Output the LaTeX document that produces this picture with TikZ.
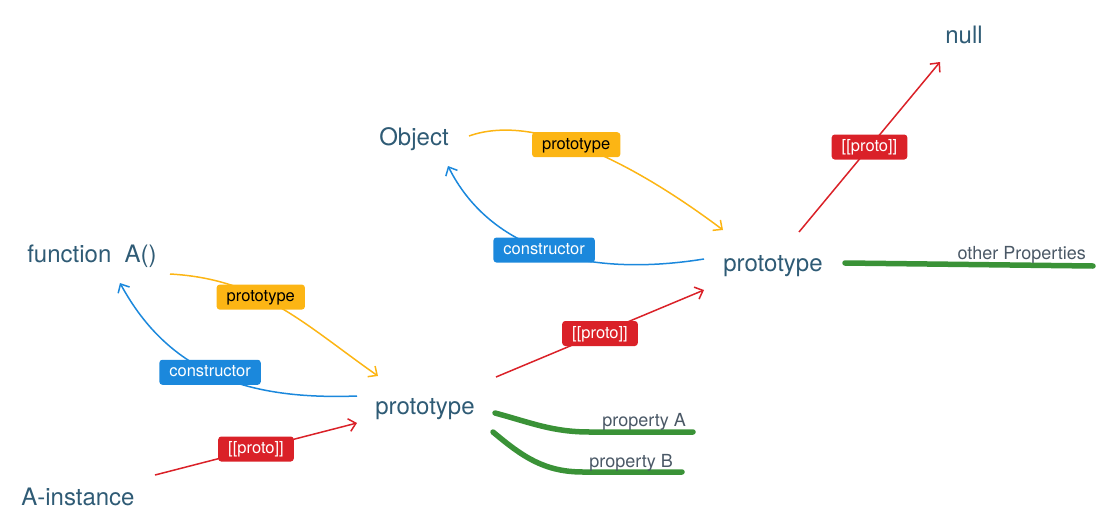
\documentclass[tikz,border=0pt]{standalone}
\usepackage{fontspec}
\setmainfont{TeX Gyre Heros}
\usetikzlibrary{arrows.meta}
\definecolor{namecol}{HTML}{2F5B75}
\definecolor{protoyel}{HTML}{FCB514}
\definecolor{ctorblue}{HTML}{1B88DC}
\definecolor{protored}{HTML}{DA2128}
\definecolor{propgreen}{HTML}{3A9237}
\definecolor{propgray}{HTML}{4A5866}
\begin{document}
\begin{tikzpicture}[x=1pt,y=1pt,
  >={Straight Barb[length=7pt,width=13pt]},
  obj/.style={text=namecol,font=\fontsize{24}{28}\selectfont,inner sep=0pt},
  tag/.style={rounded corners=3pt,font=\fontsize{16.5}{18}\selectfont,inner xsep=10pt,
    inner ysep=5pt,text height=12pt,text depth=3pt},
  yel/.style={->,protoyel,line width=1.5pt},
  blu/.style={->,ctorblue,line width=1.5pt},
  rd/.style={->,protored,line width=1.5pt},
  grn/.style={propgreen,line width=5.5pt,line cap=round},
  proptxt/.style={text=propgray,font=\fontsize{18}{20}\selectfont,inner sep=0pt,anchor=base east}]
\useasboundingbox (0,0) rectangle (1098,-528);

\node[obj] (fnA) at (92,-256) {function\ \ A()};
\node[obj] (objct) at (414,-139) {Object};
\node[obj] (nul) at (964,-35) {null};
\node[obj] (protoTop) at (773,-266) {prototype};
\node[obj] (protoA) at (425,-409) {prototype};
\node[obj] (inst) at (78,-497) {A-instance};

% function A() <-> its prototype
\draw[yel] ([shift={(78,-18)}]fnA.center) .. controls +(90,-5) and +(-74,52) .. ([shift={(-47,33)}]protoA.center)
  node[tag,fill=protoyel,text=black,pos=0.4] (tagA1) {prototype};
\draw[blu] ([shift={(-68,13)}]protoA.center) .. controls +(-107,-4) and +(50,-92) .. ([shift={(28,-27)}]fnA.center)
  node[tag,fill=ctorblue,text=white,pos=0.53] (tagA2) {constructor};
\draw[rd] ([shift={(77,22)}]inst.center) -- ([shift={(-68,-14)}]protoA.center)
  node[tag,fill=protored,text=white,midway] (tagA3) {[[proto]]};

% Object <-> its prototype
\draw[yel] ([shift={(55,3)}]objct.center) .. controls +(70,25) and +(-80,60) .. ([shift={(-50,36)}]protoTop.center)
  node[tag,fill=protoyel,text=black,pos=0.44] (tagO1) {prototype};
\draw[blu] ([shift={(-69,7)}]protoTop.center) .. controls +(-125,-20) and +(40,-80) .. ([shift={(34,-27)}]objct.center)
  node[tag,fill=ctorblue,text=white,pos=0.5] (tagO2) {constructor};

% chain
\draw[rd] ([shift={(71,32)}]protoA.center) -- ([shift={(-69,-24)}]protoTop.center)
  node[tag,fill=protored,text=white,midway] (tagP1) {[[proto]]};
\draw[rd] ([shift={(26,34)}]protoTop.center) -- ([shift={(-24,-27)}]nul.center)
  node[tag,fill=protored,text=white,midway] (tagP2) {[[proto]]};

% properties
\coordinate (othEnd) at (1093,-266);
\coordinate (propAEnd) at (693,-432);
\coordinate (propBEnd) at (682,-472);
\draw[grn] ([shift={(72,3)}]protoTop.center) -- (othEnd);
\draw[grn] ([shift={(70,-4)}]protoA.center) to[out=-15,in=180] ++(95,-19) -- (propAEnd);
\draw[grn] ([shift={(68,-23)}]protoA.center) to[out=-40,in=180] ++(90,-40) -- (propBEnd);
\node[proptxt] (othTxt) at (1086,-259) {other Properties};
\node[proptxt] (propATxt) at (686,-426) {property A};
\node[proptxt] (propBTxt) at (673,-467) {property B};
\end{tikzpicture}
\end{document}
